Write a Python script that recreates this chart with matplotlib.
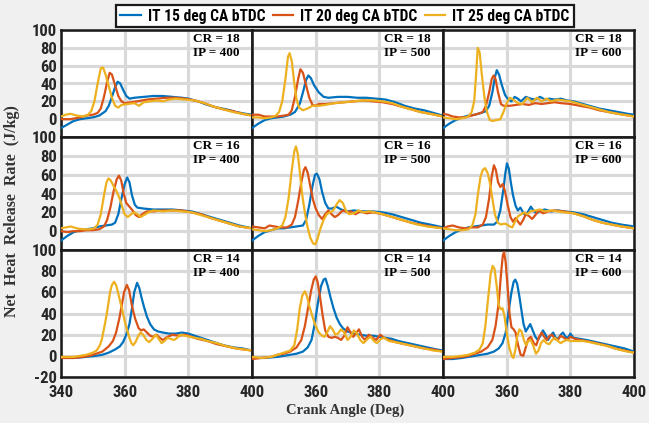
import numpy as np
import matplotlib
matplotlib.use("Agg")
import matplotlib.pyplot as plt
from matplotlib import font_manager

# heat release rate traces, (crank angle deg, J/kg) pairs
# CR = 18
cr18_ip400_it15 = [(340,-10),(342,-6),(344,-2),(346,0),(348,1),(350,2),(352,4),(354,9),(355,15),(356,25),(357,36),(357.8,42),(358.6,40),(359.5,33),(360.5,26),(361.5,23),(363,24),(366,25),(369,26),(372,26),(375,25),(378,24),(380,23),(383,20),(386,16),(389,13),(392,11),(395,8),(398,6),(400,5)]
cr18_ip400_it20 = [(340,0),(343,0),(346,2),(348,4),(350,5),(351.5,7),(352.5,12),(353.5,25),(354.5,42),(355.3,52),(356,50),(357,38),(358,26),(359,20),(360,18),(362,19),(364,20),(367,22),(370,23),(373,24),(376,24),(379,23),(382,21),(385,18),(388,14),(391,11),(394,9),(397,6),(400,4)]
cr18_ip400_it25 = [(340,3),(341.5,5),(343,6),(345,4),(347,3),(348.5,5),(349.5,9),(350.5,20),(351.5,40),(352.5,57),(353.2,58),(354,50),(355,37),(356,24),(357,15),(358,13),(359,16),(361,17),(363,18),(364.5,15),(366,19),(368,20),(370,21),(372,20),(374,22),(376,23),(379,22),(382,21),(385,18),(388,14),(391,11),(394,8),(397,6),(400,4)]

cr18_ip500_it15 = [(340,-10),(342,-5),(344,-1),(346,1),(348,2),(350,3),(352,5),(353.5,8),(355,17),(356,30),(357,44),(357.7,49),(358.5,46),(359.5,38),(361,30),(362.5,25),(364,24),(367,25),(370,25),(373,24),(376,24),(379,23),(382,22),(385,19),(388,15),(391,12),(394,10),(397,7),(400,4)]
cr18_ip500_it20 = [(340,5),(342,5),(344,3),(346,3),(348,3),(350,4),(351.5,5),(352.5,10),(353.5,25),(354.5,45),(355.2,56),(356,52),(357,38),(358,24),(359,16),(360,15),(361,17),(363,17),(366,18),(369,19),(372,20),(375,21),(378,20),(381,19),(384,17),(387,14),(390,11),(393,8),(396,6),(400,3)]
cr18_ip500_it25 = [(340,2),(342,2),(344,1),(346,2),(347.5,4),(348.5,8),(349.5,20),(350.5,45),(351.3,70),(351.8,74),(352.5,65),(353.3,40),(354,22),(354.8,13),(356,10),(357.5,12),(359,15),(361,15),(363,16),(366,18),(369,19),(372,20),(375,21),(378,21),(381,20),(384,18),(387,14),(390,11),(393,8),(396,6),(400,3)]

cr18_ip600_it15 = [(340,-10),(342,-5),(344,-1),(346,2),(348,4),(350,5),(352,7),(353.5,9),(354.5,15),(355.5,30),(356.3,47),(356.9,55),(357.6,50),(358.5,38),(359.5,27),(360.5,22),(361.5,20),(362.5,25),(363.5,23),(364.5,20),(366,25),(367.5,23),(369,22),(370.5,25),(372,22),(373.5,23),(375,22),(377,23),(379,21),(381,20),(383,18),(386,15),(389,12),(392,10),(395,8),(398,6),(400,5)]
cr18_ip600_it20 = [(340,6),(341.5,5),(343,3),(345,2),(347,2),(349,4),(351,6),(352.5,8),(353.5,15),(354.5,30),(355.3,45),(355.9,49),(356.5,45),(357.3,30),(358.2,17),(359,15),(361,15),(363,16),(365,17),(367,16),(369,18),(371,17),(373,18),(375,19),(377,18),(380,17),(383,15),(386,13),(389,10),(392,8),(395,6),(400,3)]
cr18_ip600_it25 = [(340,2),(342,1),(344,0),(346,1),(348,3),(349,8),(349.8,20),(350.4,50),(350.9,80),(351.5,75),(352.2,50),(353,25),(353.8,8),(354.7,-1),(355.6,-2),(356.8,-1),(358,0),(359,8),(360,18),(361,24),(362,22),(363.5,18),(365,17),(366.5,24),(368,19),(369.5,24),(371,20),(372.5,23),(374,20),(376,22),(378,21),(380,20),(383,17),(386,14),(389,11),(392,8),(395,6),(400,3)]

# CR = 16
cr16_ip400_it15 = [(340,-10),(342,-5),(344,-1),(346,1),(348,2),(350,3),(352,5),(354,6),(356,7),(357,9),(358,18),(359,35),(360,50),(360.8,57),(361.5,52),(362.3,38),(363.2,28),(364,25),(366,24),(369,23),(372,23),(375,23),(378,22),(381,21),(384,18),(387,15),(390,12),(393,9),(396,6),(400,3)]
cr16_ip400_it20 = [(340,0),(342,-1),(344,0),(346,0),(348,1),(350,1),(352,2),(353.5,5),(354.5,12),(355.5,25),(356.5,42),(357.5,55),(358.2,59),(358.9,54),(359.7,40),(360.5,30),(361.5,26),(362.5,22),(363.5,17),(364.5,15),(365.5,18),(367,21),(369,21),(372,22),(375,22),(378,22),(381,20),(384,18),(387,14),(390,11),(393,8),(396,5),(400,3)]
cr16_ip400_it25 = [(340,3),(341.5,4),(343,5),(345,3),(347,2),(349,2),(350.5,3),(351.5,7),(352.5,18),(353.5,38),(354.3,52),(354.9,56),(355.6,54),(356.5,48),(357.5,42),(358.5,34),(359.3,25),(360,18),(361,15),(362,18),(363,20),(364,18),(365,15),(366,17),(367.5,20),(369,22),(372,21),(375,22),(378,21),(381,20),(384,17),(387,14),(390,11),(393,8),(396,5),(400,3)]

cr16_ip500_it15 = [(340,-10),(342,-5),(344,-1),(346,1),(348,3),(350,3),(352,4),(354,5),(356,6),(357,12),(358,28),(359,48),(359.8,60),(360.4,61),(361.2,55),(362,42),(363,30),(364,24),(365,24),(366.5,26),(368,23),(370,21),(372,22),(375,21),(378,21),(381,20),(384,18),(387,15),(390,12),(393,9),(396,7),(400,4)]
cr16_ip500_it20 = [(340,5),(342,4),(344,3),(345.5,6),(347,5),(349,4),(351,4),(352.5,7),(353.5,15),(354.5,32),(355.5,52),(356.3,65),(356.8,68),(357.5,62),(358.3,48),(359.2,33),(360,24),(361,17),(362,13),(363,18),(364,22),(365,18),(366,15),(367,17),(368.5,22),(370,20),(371,21),(372.5,18),(374,21),(376,19),(378,20),(381,18),(384,15),(387,12),(390,9),(393,7),(396,5),(400,3)]
cr16_ip500_it25 = [(340,2),(342,1),(344,0),(346,1),(348,3),(349.5,6),(350.5,15),(351.5,35),(352.5,65),(353.3,85),(353.8,90),(354.4,82),(355.1,60),(355.8,38),(356.6,20),(357.4,5),(358.3,-7),(359.2,-13),(359.9,-14),(360.6,-8),(361.5,3),(362.5,12),(363.5,18),(364.5,20),(365.5,22),(366.5,28),(367.5,33),(368.5,30),(369.5,22),(370.5,18),(372,19),(373.5,22),(375,20),(377,21),(380,19),(383,16),(386,13),(389,10),(392,7),(395,5),(400,3)]

cr16_ip600_it15 = [(340,-10),(342,-5),(344,-1),(346,2),(348,4),(350,5),(352,6),(354,7),(356,7),(357,10),(358,22),(359,45),(359.6,62),(360.1,72),(360.7,66),(361.3,52),(362,38),(362.8,27),(363.5,22),(364.3,25),(365,21),(365.8,17),(366.6,20),(367.6,26),(368.6,21),(369.5,19),(370.5,22),(372,23),(374,21),(376,22),(378,21),(381,20),(384,18),(387,15),(390,12),(393,9),(396,7),(400,5)]
cr16_ip600_it20 = [(340,3),(341.5,5),(343,6),(345,4),(347,3),(349,4),(351,4),(352.5,7),(353.5,15),(354.5,35),(355.3,58),(356,70),(356.6,65),(357.3,52),(358,47),(358.8,50),(359.5,42),(360.3,28),(361.2,15),(362,10),(362.8,14),(363.6,10),(364.3,7),(365.2,12),(366,18),(367,16),(368,13),(369,17),(370,22),(371.5,19),(373,21),(375,22),(378,21),(381,19),(384,16),(387,12),(390,9),(393,7),(396,5),(400,3)]
cr16_ip600_it25 = [(340,3),(342,2),(344,1),(346,1),(348,2),(349.2,6),(350.2,18),(351,40),(351.8,58),(352.5,65),(353.2,67),(354,62),(354.7,52),(355.5,35),(356.3,18),(357.2,9),(358.2,7),(359.2,8),(360.2,7),(361,5),(361.8,4),(362.6,10),(363.6,16),(364.6,18),(365.5,20),(366.5,18),(367.5,21),(369,22),(370.5,23),(372,21),(374,22),(376,21),(378,20),(381,19),(384,16),(387,12),(390,9),(393,7),(396,5),(400,3)]

# CR = 14
cr14_ip400_it15 = [(340,-2),(344,-2),(348,-1),(351,0),(353,1),(355,3),(357,6),(358.5,9),(359.5,13),(360.5,20),(361.5,30),(362.3,45),(363,60),(363.9,69),(364.6,64),(365.3,55),(366,47),(367,37),(368,30),(369.2,25),(370.5,23),(372,22),(374,21),(376,21),(378,22),(380,21),(382,19),(384,17),(386,15),(388,13),(391,10),(394,8),(397,7),(400,5)]
cr14_ip400_it20 = [(340,-2),(344,-2),(347,-1),(349,0),(351,2),(353,4),(355,9),(356.3,14),(357.3,22),(358.3,35),(359.1,48),(359.8,60),(360.7,67),(361.4,62),(362.3,47),(363.3,35),(364.4,26),(365.2,24),(366,25),(367,22),(368,19),(369,18),(370,20),(371,17),(372,15),(373.5,18),(375,20),(377,19),(379,20),(381,18),(383,16),(386,14),(389,11),(392,9),(395,7),(400,5)]
cr14_ip400_it25 = [(340,-1),(344,-1),(346,0),(348,1),(350,3),(351.2,5),(352.2,10),(352.8,15),(353.6,27),(354.4,40),(355.4,60),(356,67),(356.7,70),(357.4,66),(358.3,55),(359.2,44),(360,33),(360.7,25),(361.5,17),(362.1,12),(362.7,10),(363.4,13),(364.3,19),(365,22),(365.8,20),(366.8,15),(367.7,13),(368.7,16),(369.8,20),(370.7,16),(371.6,12),(372.5,14),(373.5,17),(374.5,16),(375.5,15),(376.5,17),(377.5,20),(379,19),(380.5,18),(382,17),(384,16),(386,14),(389,12),(392,9),(395,7),(400,5)]

cr14_ip500_it15 = [(340,-2),(344,-2),(348,-1),(350,0),(352,1),(354,2),(356,4),(357.5,8),(358.7,15),(359.7,30),(360.7,50),(361.7,66),(362.5,72),(363.1,73),(363.8,66),(364.6,56),(365.6,45),(366.6,36),(367.6,30),(368.6,26),(370,23),(372,21),(374,20),(376,19),(378,19),(380,18),(382,17),(384,16),(386,14),(389,12),(392,10),(395,8),(398,6),(400,5)]
cr14_ip500_it20 = [(340,-3),(343,-2),(346,-1),(348,1),(350,2),(352,4),(354,8),(355.5,15),(356.6,28),(357.6,45),(358.6,62),(359.4,72),(360,75),(360.6,70),(361.4,55),(362.2,38),(363,24),(364,18),(365,17),(366,18),(367,17),(368,15),(369,19),(370,27),(371,22),(371.8,18),(372.8,22),(373.6,25),(374.6,18),(375.5,15),(376.7,20),(378,17),(379,15),(380.3,20),(381.5,17),(383,15),(385,13),(388,11),(391,9),(394,7),(397,6),(400,4)]
cr14_ip500_it25 = [(340,-1),(343,-2),(346,-1),(348,1),(350,3),(352,5),(353.3,10),(354.2,25),(355,45),(355.8,57),(356.6,61),(357.3,56),(358,47),(359,37),(360,28),(361,22),(362,19),(362.8,18),(363.6,22),(364.5,28),(365.3,25),(366.2,20),(367,21),(368,25),(369,22),(370,15),(371,18),(372,24),(373,21),(374,15),(375,12),(376.3,16),(377.3,18),(378.3,14),(379.2,12),(380.5,16),(381.5,17),(383,14),(385,13),(388,11),(391,9),(394,7),(397,5),(400,4)]

cr14_ip600_it15 = [(340,-3),(343,-3),(346,-2),(348,-1),(350,0),(352,1),(354,2),(356,4),(357.5,7),(358.7,12),(359.7,22),(360.6,42),(361.5,60),(362.2,70),(362.7,72),(363.3,68),(364,56),(364.7,42),(365.3,30),(366,23),(366.8,27),(367.4,30),(368.2,24),(369,18),(369.8,15),(370.6,19),(371.4,24),(372.2,20),(373,15),(373.8,19),(374.6,22),(375.4,17),(376.2,16),(377,20),(377.7,22),(378.5,18),(379.3,17),(380,21),(381,17),(383,16),(385,15),(388,13),(391,11),(394,9),(397,7),(400,4)]
cr14_ip600_it20 = [(340,-3),(343,-2),(346,-1),(348,0),(350,2),(352,4),(354,8),(355.5,15),(356.5,28),(357.5,50),(358.3,80),(358.8,95),(359.2,98),(359.7,88),(360.3,65),(360.9,40),(361.5,27),(362.2,25),(362.8,22),(363.6,10),(364.4,1),(365.2,0),(366,8),(366.8,16),(367.6,18),(368.5,12),(369.3,10),(370.2,18),(371,22),(371.8,18),(372.6,15),(373.5,19),(374.3,20),(375.1,16),(376,15),(377,19),(378,17),(379,15),(380,18),(381.5,16),(383,15),(385,14),(388,12),(391,10),(394,7),(397,5),(400,3)]
cr14_ip600_it25 = [(340,-1),(343,-1),(346,0),(348,1),(350,3),(351.5,6),(352.5,12),(353.3,28),(354.2,55),(355,78),(355.6,85),(356.2,82),(356.9,65),(357.5,48),(358.1,44),(358.7,45),(359.3,38),(360,22),(360.8,8),(361.6,0),(362.1,-2),(362.7,5),(363.3,18),(364,25),(364.7,23),(365.4,15),(366.1,10),(366.8,14),(367.5,15),(368.3,10),(369.2,2),(370,5),(370.8,12),(371.6,15),(372.5,12),(373.4,11),(374.3,15),(375.2,17),(376.1,14),(377,12),(378,14),(379,15),(380,14),(382,14),(384,14),(386,13),(389,11),(392,9),(395,6),(398,4),(400,3)]

compression_ratios = [18, 16, 14]
injection_pressures = [400, 500, 600]
series_labels = ["IT 15 deg CA bTDC", "IT 20 deg CA bTDC", "IT 25 deg CA bTDC"]
colors = ["#0072BD", "#D95319", "#EDB120"]

grid = [
    [(cr18_ip400_it15, cr18_ip400_it20, cr18_ip400_it25),
     (cr18_ip500_it15, cr18_ip500_it20, cr18_ip500_it25),
     (cr18_ip600_it15, cr18_ip600_it20, cr18_ip600_it25)],
    [(cr16_ip400_it15, cr16_ip400_it20, cr16_ip400_it25),
     (cr16_ip500_it15, cr16_ip500_it20, cr16_ip500_it25),
     (cr16_ip600_it15, cr16_ip600_it20, cr16_ip600_it25)],
    [(cr14_ip400_it15, cr14_ip400_it20, cr14_ip400_it25),
     (cr14_ip500_it15, cr14_ip500_it20, cr14_ip500_it25),
     (cr14_ip600_it15, cr14_ip600_it20, cr14_ip600_it25)],
]

# pick a condensed sans face if one is installed
installed = font_manager.fontManager.ttflist
names = {f.name for f in installed}
sans_family, sans_stretch = ["Liberation Sans", "DejaVu Sans"], "normal"
for cand in ["Liberation Sans Narrow", "Roboto Condensed", "Open Sans Condensed", "Noto Sans Condensed"]:
    if cand in names:
        sans_family = [cand, "DejaVu Sans"]
        break
else:
    if any(f.name == "DejaVu Sans" and f.stretch == "condensed" for f in installed):
        sans_family, sans_stretch = ["DejaVu Sans"], "condensed"
    elif any(f.name == "Noto Sans" and f.stretch == "condensed" for f in installed):
        sans_family, sans_stretch = ["Noto Sans"], "condensed"
serif = ["Liberation Serif", "DejaVu Serif"]
sans_font = {"family": sans_family, "stretch": sans_stretch, "weight": "bold"}

fig = plt.figure(figsize=(6.49, 4.23), dpi=100, facecolor="#f0f0f0")
gs = fig.add_gridspec(3, 3, left=61/649, right=634/649, top=1-30/423, bottom=1-377/423,
                      hspace=0, wspace=0, height_ratios=[107, 113, 127])

lines = []
for r in range(3):
    for c in range(3):
        ax = fig.add_subplot(gs[r, c])
        ax.set_facecolor("white")
        for k, pts in enumerate(grid[r][c]):
            pts = np.array(pts)
            ln, = ax.plot(pts[:, 0], pts[:, 1], color=colors[k], lw=1.6, zorder=3)
            if r == 0 and c == 0:
                lines.append(ln)
        ax.set_xlim(340, 400)
        ax.set_ylim(-20, 100)
        ax.set_xticks([340, 360, 380, 400])
        ax.set_yticks([-20, 0, 20, 40, 60, 80, 100])
        ax.grid(True, color="#d9d9d9", lw=2.2, zorder=0)
        ax.set_axisbelow(True)
        for s in ax.spines.values():
            s.set_linewidth(1.8)
            s.set_color("#1a1a1a")
        ax.tick_params(axis="y", length=0, pad=3)
        ax.tick_params(axis="x", length=0, pad=5.5)
        # tick labels only on the outer edges
        if r < 2:
            ax.set_xticklabels([])
        else:
            labs = ["340", "360", "380", "400"] if c == 0 else ["", "360", "380", "400"]
            ax.set_xticklabels(labs)
        if c > 0:
            ax.set_yticklabels([])
        else:
            labs = ["-20", "0", "20", "40", "60", "80", "100"]
            if r < 2:
                labs[0] = ""
            ax.set_yticklabels(labs)
        for t in ax.get_xticklabels() + ax.get_yticklabels():
            t.set_fontfamily(sans_family)
            t.set_fontstretch(sans_stretch)
            t.set_fontweight("bold")
            t.set_fontsize(12)
            t.set_color("#262626")
        ax.annotate(f"CR = {compression_ratios[r]}\nIP = {injection_pressures[c]}",
                    xy=(1, 1), xycoords="axes fraction", xytext=(-9, -2),
                    textcoords="offset points", ha="right", va="top",
                    family=serif, fontweight="bold", fontsize=9.5, linespacing=1.25)

leg = fig.legend(lines, series_labels, loc="center", bbox_to_anchor=(345/649, 1-16/423),
                 ncol=3, frameon=True, fancybox=False, framealpha=1, edgecolor="#1a1a1a",
                 handlelength=1.3, handletextpad=0.45, columnspacing=0.5, borderpad=0.25,
                 prop=dict(sans_font, size=11.2))
leg.get_frame().set_linewidth(1.6)

fig.text(345/649, 1-410/423, "Crank Angle (Deg)", ha="center", va="center",
         family=serif, fontweight="bold", fontsize=10.5, color="#333333")
fig.text(12/649, 0.5, "Net  Heat  Release  Rate  (J/kg)", ha="center", va="center",
         rotation=90, family=serif, fontweight="bold", fontsize=11.5, color="#333333")

fig.savefig("out.png", dpi=100, facecolor=fig.get_facecolor())
